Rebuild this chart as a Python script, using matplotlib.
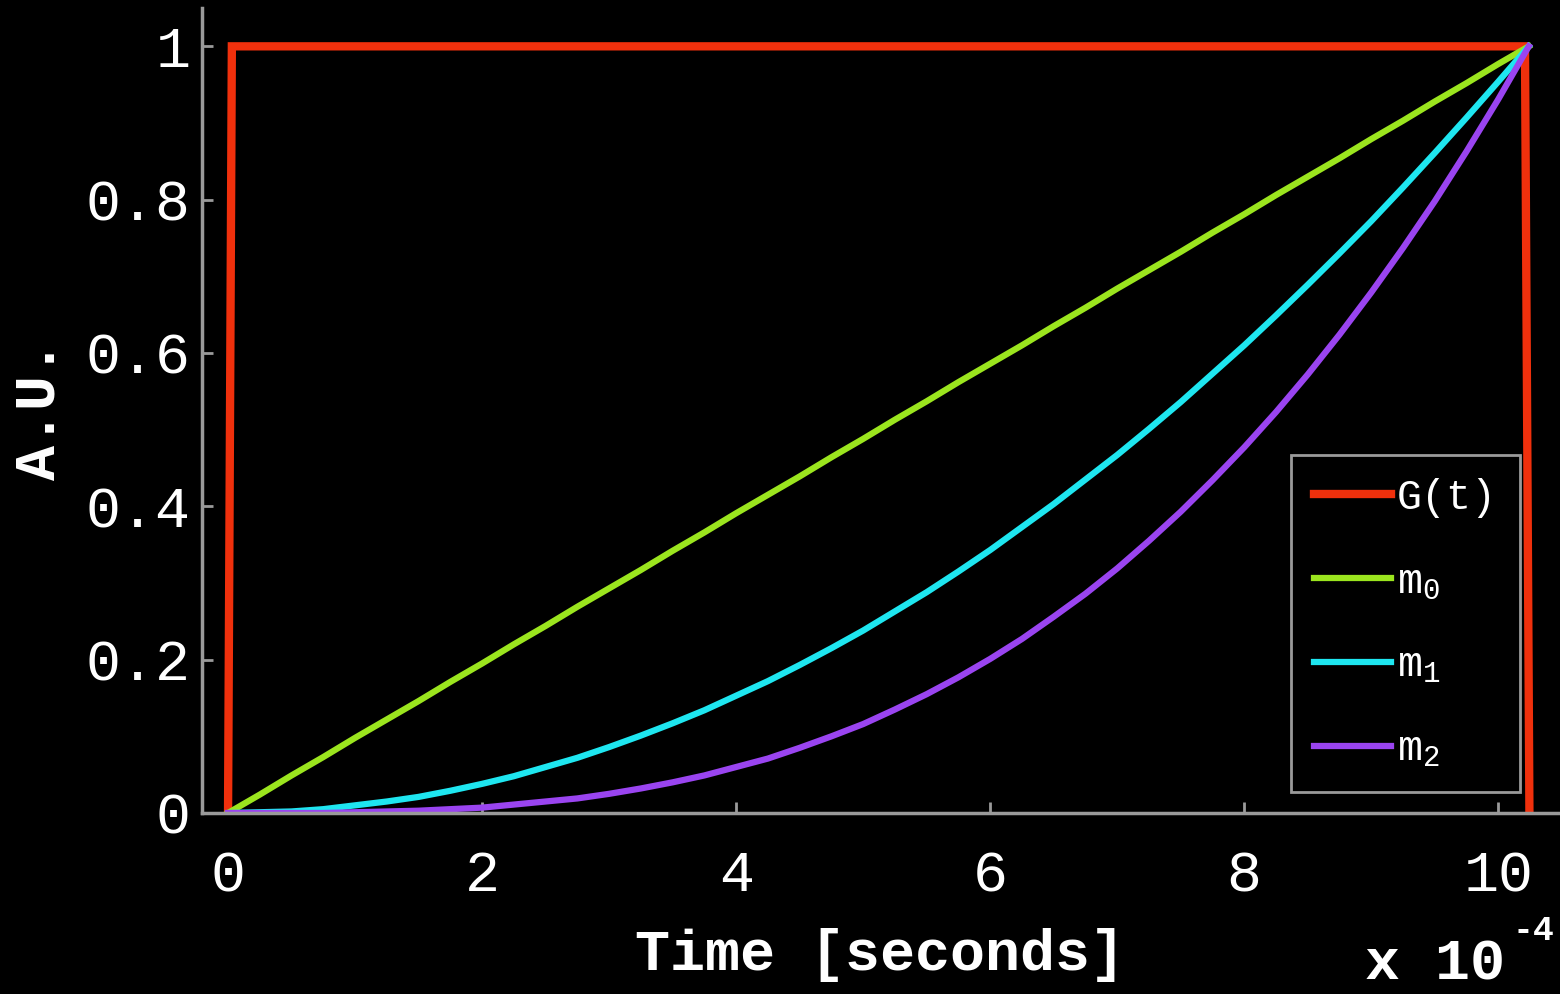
import matplotlib
matplotlib.use("Agg")
import matplotlib.pyplot as plt

# -------- Data (time in units of 1e-4 s) --------
t_gate = [0.0, 0.03, 10.21, 10.245]
g_vals = [0.0, 1.0, 1.0, 0.0]

t_mom = [0.0, 0.25, 0.5, 0.75, 1.0, 1.25, 1.5, 1.75, 2.0, 2.25, 2.5, 2.75,
         3.0, 3.25, 3.5, 3.75, 4.0, 4.25, 4.5, 4.75, 5.0, 5.25, 5.5, 5.75,
         6.0, 6.25, 6.5, 6.75, 7.0, 7.25, 7.5, 7.75, 8.0, 8.25, 8.5, 8.75,
         9.0, 9.25, 9.5, 9.75, 10.0, 10.24]
m0 = [0.0, 0.024, 0.049, 0.073, 0.098, 0.122, 0.146, 0.171, 0.195, 0.220, 0.244, 0.269,
      0.293, 0.317, 0.342, 0.366, 0.391, 0.415, 0.439, 0.464, 0.488, 0.513, 0.537, 0.562,
      0.586, 0.610, 0.635, 0.659, 0.684, 0.708, 0.732, 0.757, 0.781, 0.806, 0.830, 0.854,
      0.879, 0.903, 0.928, 0.952, 0.977, 1.0]
m1 = [0.0, 0.001, 0.002, 0.005, 0.010, 0.015, 0.021, 0.029, 0.038, 0.048, 0.060, 0.072,
      0.086, 0.101, 0.117, 0.134, 0.153, 0.172, 0.193, 0.215, 0.238, 0.263, 0.288, 0.315,
      0.343, 0.373, 0.403, 0.435, 0.467, 0.501, 0.536, 0.573, 0.610, 0.649, 0.689, 0.730,
      0.772, 0.816, 0.861, 0.907, 0.954, 1.0]
m2 = [0.0, 0.000, 0.000, 0.000, 0.001, 0.002, 0.003, 0.005, 0.007, 0.011, 0.015, 0.019,
      0.025, 0.032, 0.040, 0.049, 0.060, 0.071, 0.085, 0.100, 0.116, 0.135, 0.155, 0.177,
      0.201, 0.227, 0.256, 0.286, 0.319, 0.355, 0.393, 0.434, 0.477, 0.523, 0.572, 0.624,
      0.679, 0.737, 0.798, 0.863, 0.931, 1.0]

labels = ["G(t)", r"$\mathrm{m}_0$", r"$\mathrm{m}_1$", r"$\mathrm{m}_2$"]
colors = ["#f0300c", "#9be51e", "#1ee6f0", "#9a44f0"]

x_ticks = [0, 2, 4, 6, 8, 10]
y_ticks = [0, 0.2, 0.4, 0.6, 0.8, 1]
y_ticklabels = ["0", "0.2", "0.4", "0.6", "0.8", "1"]

# -------- Style --------
plt.rcParams["font.family"] = ["Liberation Mono", "DejaVu Sans Mono"]
plt.rcParams["mathtext.fontset"] = "custom"
plt.rcParams["mathtext.rm"] = "Liberation Mono"
plt.rcParams["mathtext.it"] = "Liberation Mono"
plt.rcParams["mathtext.bf"] = "Liberation Mono:bold"

spine_col = "#9a9a9a"

fig = plt.figure(figsize=(15.6, 9.94), dpi=100, facecolor="black")
ax = fig.add_axes([202 / 1560, 1 - 813 / 994, 1356 / 1560, 805 / 994])
ax.set_facecolor("black")

ax.plot(t_gate, g_vals, color=colors[0], lw=6, label=labels[0],
        solid_joinstyle="miter")
ax.plot(t_mom, m0, color=colors[1], lw=4.5, label=labels[1])
ax.plot(t_mom, m1, color=colors[2], lw=4.5, label=labels[2])
ax.plot(t_mom, m2, color=colors[3], lw=4.5, label=labels[3])

ax.set_xlim(-0.205, 10.47)
ax.set_ylim(0, 1.05)

for s in ["top", "right"]:
    ax.spines[s].set_visible(False)
for s in ["left", "bottom"]:
    ax.spines[s].set_color(spine_col)
    ax.spines[s].set_linewidth(2.5)

ax.set_xticks(x_ticks)
ax.set_xticklabels([str(v) for v in x_ticks])
ax.set_yticks(y_ticks)
ax.set_yticklabels(y_ticklabels)
ax.tick_params(axis="both", direction="in", colors=spine_col, length=8, width=2,
               labelcolor="white", labelsize=42)
ax.tick_params(axis="x", pad=26)
ax.tick_params(axis="y", pad=8)

ax.set_xlabel("Time [seconds]", color="white", fontsize=42, fontweight="bold",
              labelpad=18)
ax.set_ylabel("A.U.", color="white", fontsize=42, fontweight="bold", labelpad=14)

leg = ax.legend(loc="lower left", bbox_to_anchor=(0.803, 0.026), borderaxespad=0,
                fontsize=30, frameon=True, fancybox=False, facecolor="black",
                edgecolor=spine_col, handlelength=1.85, handletextpad=0.15,
                labelspacing=1.05, borderpad=0.55, framealpha=1)
leg.get_frame().set_linewidth(2)
for txt in leg.get_texts():
    txt.set_color("white")

# exponent for the x axis
fig.text(1365 / 1560, 1 - 980 / 994, "x 10", color="white", fontsize=42,
         fontweight="bold", va="baseline", ha="left")
fig.text(1513 / 1560, 1 - 940 / 994, "-4", color="white", fontsize=25,
         fontweight="bold", va="baseline", ha="left")

fig.savefig("out.png", dpi=100, facecolor="black")
